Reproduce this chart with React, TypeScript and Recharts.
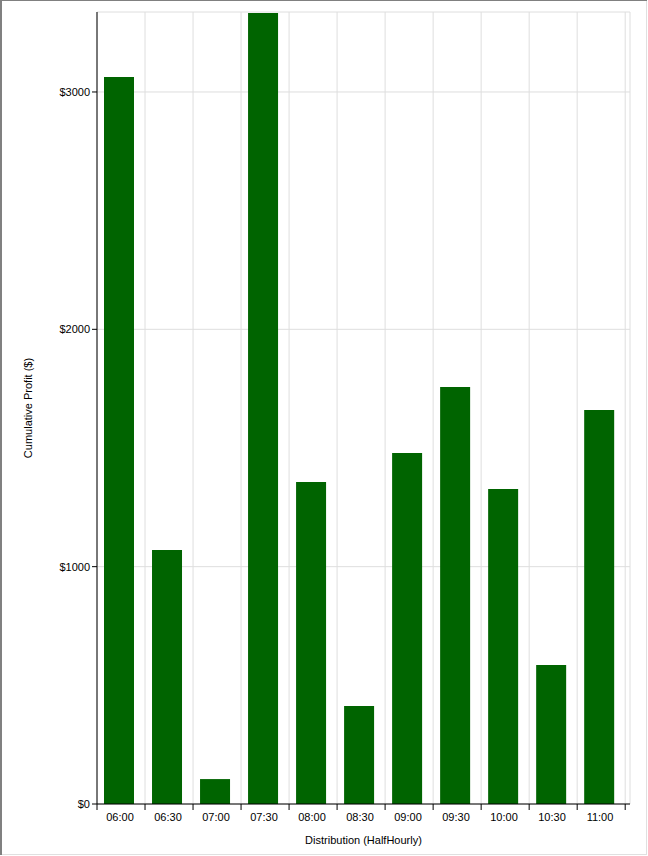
import React from 'react';
import {
  BarChart,
  Bar,
  XAxis,
  YAxis,
  CartesianGrid,
  ReferenceArea,
  Rectangle,
} from 'recharts';

/* ------------------------------------------------------------------ */
/*  Data                                                               */
/* ------------------------------------------------------------------ */

const slots = ['06:00', '06:30', '07:00', '07:30', '08:00', '08:30', '09:00', '09:30', '10:00', '10:30', '11:00'];
const profit = [3063, 1070, 105, 3333, 1357, 413, 1479, 1757, 1327, 586, 1660];
const yTicks = [0, 1000, 2000, 3000];
const yMax = 3337;

// boundaries between half-hour slots, used for tick marks and vertical grid
const edgeTicks = slots.map((_, i) => i).concat(slots.length);

// pos = middle of each slot on the numeric axis
const data = slots.map((slot, i) => ({ slot, pos: i + 0.5, profit: profit[i] }));

/* ------------------------------------------------------------------ */
/*  Styles                                                             */
/* ------------------------------------------------------------------ */

const FONT = '"Liberation Sans", Arial, sans-serif';
const TICK_STYLE = { fontSize: 11, fill: '#000', fontFamily: FONT };
const GRID = '#dedede';
const BAR = '#006400';

// tick marks only, labels come from the category axis
const NoLabel = () => <g />;

// the original draws its bars a touch left of the slot centre
const NudgedBar = (props: any) => <Rectangle {...props} x={props.x - 2} />;

function YLabel({ viewBox }: any) {
  const cx = viewBox.x + 28;
  const cy = viewBox.y + viewBox.height / 2;
  return (
    <text
      x={cx}
      y={cy}
      transform={`rotate(-90 ${cx} ${cy})`}
      textAnchor="middle"
      dominantBaseline="central"
      fontSize={11}
      fontFamily={FONT}
      fill="#000"
    >
      Cumulative Profit ($)
    </text>
  );
}

function XLabel({ viewBox }: any) {
  const cx = viewBox.x + viewBox.width / 2;
  const cy = viewBox.y + 35;
  return (
    <text
      x={cx}
      y={cy}
      textAnchor="middle"
      dominantBaseline="central"
      fontSize={11}
      fontFamily={FONT}
      fill="#000"
    >
      Distribution (HalfHourly)
    </text>
  );
}

export default function App() {
  return (
    <div
      style={{
        position: 'absolute',
        top: 0,
        left: 0,
        width: 647,
        height: 855,
        background: '#fff',
        boxShadow: 'inset 2px 1px 0 #808080, inset -1px -1px 0 #e0e0e0',
      }}
    >
      <BarChart
        width={647}
        height={855}
        data={data}
        margin={{ top: 12, right: 17, bottom: 0, left: 0 }}
        barSize={30}
      >
        <ReferenceArea xAxisId={0} stroke={GRID} fill="none" ifOverflow="visible" />
        <CartesianGrid xAxisId={0} stroke={GRID} strokeWidth={1} />
        <XAxis
          xAxisId={0}
          dataKey="pos"
          type="number"
          domain={[0, 11.1]}
          allowDataOverflow
          ticks={edgeTicks}
          interval={0}
          tick={<NoLabel />}
          tickSize={6}
          tickLine={{ stroke: '#000' }}
          axisLine={{ stroke: '#000' }}
          height={1}
        />
        <XAxis
          xAxisId={1}
          dataKey="slot"
          padding={{ left: -1, right: 6 }}
          tick={TICK_STYLE}
          tickLine={false}
          axisLine={false}
          tickSize={5}
          tickMargin={3}
          height={50}
          interval={0}
          label={<XLabel />}
        />
        <YAxis
          width={97}
          domain={[0, yMax]}
          allowDataOverflow
          ticks={yTicks}
          tickFormatter={(v) => `$${v}`}
          tick={TICK_STYLE}
          tickSize={5}
          tickMargin={2}
          tickLine={{ stroke: '#000' }}
          axisLine={{ stroke: '#000' }}
          label={<YLabel />}
        />
        <Bar
          xAxisId={0}
          dataKey="profit"
          fill={BAR}
          shape={<NudgedBar />}
          isAnimationActive={false}
        />
      </BarChart>
    </div>
  );
}
